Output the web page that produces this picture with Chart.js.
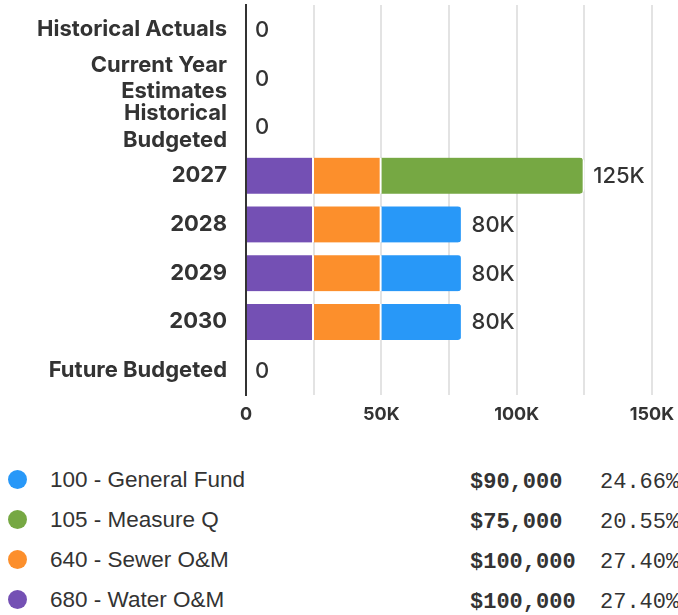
<!DOCTYPE html>
<html>
<head>
<meta charset="utf-8">
<script src="https://cdn.jsdelivr.net/npm/chart.js@4.4.1/dist/chart.umd.min.js"></script>
<style>
  html, body { margin: 0; padding: 0; background: #fff; width: 678px; height: 615px; overflow: hidden; }
  #wrap { position: absolute; left: 0; top: 0; width: 678px; height: 440px; }
  #legend { position: absolute; left: 0; top: 463px; width: 678px; }
  .row { position: relative; height: 40px; white-space: nowrap; }
  .dot { position: absolute; left: 8px; top: 7px; width: 19px; height: 19px; border-radius: 50%; }
  .name { position: absolute; left: 50px; top: 4px; font-family: "Liberation Sans", Arial, sans-serif; font-size: 22.5px; color: #333; }
  .amt { position: absolute; left: 470px; top: 7px; font-family: "Liberation Mono", monospace; font-weight: bold; font-size: 22px; color: #333; }
  .pct { position: absolute; left: 600px; top: 7px; font-family: "Liberation Mono", monospace; font-size: 22px; color: #333; }
</style>
</head>
<body>
<div id="wrap"><canvas id="c" width="678" height="440"></canvas></div>
<div id="legend"></div>
<script>
const categories = ["Historical Actuals", ["Current Year", "Estimates"], ["Historical", "Budgeted"], "2027", "2028", "2029", "2030", "Future Budgeted"];
const water680   = [null, null, null, 25000, 25000, 25000, 25000, null];
const sewer640   = [null, null, null, 25000, 25000, 25000, 25000, null];
const measureQ105 = [null, null, null, 75000, null, null, null, null];
const general100 = [null, null, null, null, 30000, 30000, 30000, null];
const xTicks = [0, 50000, 100000, 150000];

const seriesNames = ["100 - General Fund", "105 - Measure Q", "640 - Sewer O&M", "680 - Water O&M"];
const seriesColors = ["#2898F8", "#76A843", "#FC8F2C", "#7450B4"];
const seriesData = [general100, measureQ105, sewer640, water680];

function fmtK(v) { return v === 0 ? "0" : (v / 1000) + "K"; }

const totals = categories.map((_, i) => seriesData.reduce((s, arr) => s + (arr[i] || 0), 0));
const grand = seriesData.reduce((s, arr) => s + arr.reduce((a, b) => a + (b || 0), 0), 0);

const totalLabels = {
  id: 'totalLabels',
  afterDatasetsDraw(chart) {
    const ctx = chart.ctx;
    const x = chart.scales.x, y = chart.scales.y;
    ctx.save();
    ctx.font = '500 22px Inter, "Noto Sans", sans-serif';
    ctx.fillStyle = '#333';
    ctx.textAlign = 'left';
    ctx.textBaseline = 'middle';
    totals.forEach((t, i) => {
      ctx.fillText(fmtK(t), x.getPixelForValue(t) + 9, y.getPixelForValue(i) + 1);
    });
    ctx.restore();
  }
};

const mkDs = (label, data, color) => ({
  label, data, backgroundColor: color,
  borderColor: '#ffffff',
  borderWidth: { top: 0, bottom: 0, left: 0, right: 2 },
  borderSkipped: 'start',
  borderRadius: 5,
  barThickness: 36
});

new Chart(document.getElementById('c'), {
  type: 'bar',
  data: {
    labels: categories,
    datasets: [
      mkDs(seriesNames[3], water680, seriesColors[3]),
      mkDs(seriesNames[2], sewer640, seriesColors[2]),
      mkDs(seriesNames[1], measureQ105, seriesColors[1]),
      mkDs(seriesNames[0], general100, seriesColors[0])
    ]
  },
  options: {
    indexAxis: 'y',
    responsive: false,
    animation: false,
    layout: { autoPadding: false, padding: { top: 5, right: 26, left: 0, bottom: 0 } },
    plugins: { legend: { display: false }, tooltip: { enabled: false } },
    scales: {
      x: {
        stacked: true,
        min: 0, max: 150000,
        ticks: {
          stepSize: 25000,
          autoSkip: false,
          maxRotation: 0,
          color: '#333',
          padding: 9,
          font: { family: 'Inter, "Noto Sans", sans-serif', size: 18, weight: '700' },
          callback: (v) => xTicks.includes(v) ? fmtK(v) : ''
        },
        grid: { color: '#e3e3e3', lineWidth: 2, drawTicks: false },
        border: { display: false },
        afterFit(scale) { scale.height = 45; scale.paddingLeft = 0; scale.paddingRight = 0; }
      },
      y: {
        stacked: true,
        ticks: {
          autoSkip: false,
          color: '#333',
          padding: 19,
          font: { family: 'Inter, "Noto Sans", sans-serif', size: 22, weight: '700', lineHeight: 1.2 }
        },
        grid: { display: false, drawTicks: false },
        border: { display: true, color: '#333', width: 2 },
        afterFit(scale) { scale.width = 246; scale.paddingTop = 0; scale.paddingBottom = 0; }
      }
    }
  },
  plugins: [totalLabels]
});

const leg = document.getElementById('legend');
seriesNames.forEach((n, i) => {
  const sum = seriesData[i].reduce((a, b) => a + (b || 0), 0);
  const row = document.createElement('div');
  row.className = 'row';
  row.innerHTML = '<span class="dot" style="background:' + seriesColors[i] + '"></span>' +
    '<span class="name">' + n.replace('&', '&amp;') + '</span>' +
    '<span class="amt">$' + sum.toLocaleString('en-US') + '</span>' +
    '<span class="pct">' + (sum / grand * 100).toFixed(2) + '%</span>';
  leg.appendChild(row);
});
</script>
</body>
</html>
